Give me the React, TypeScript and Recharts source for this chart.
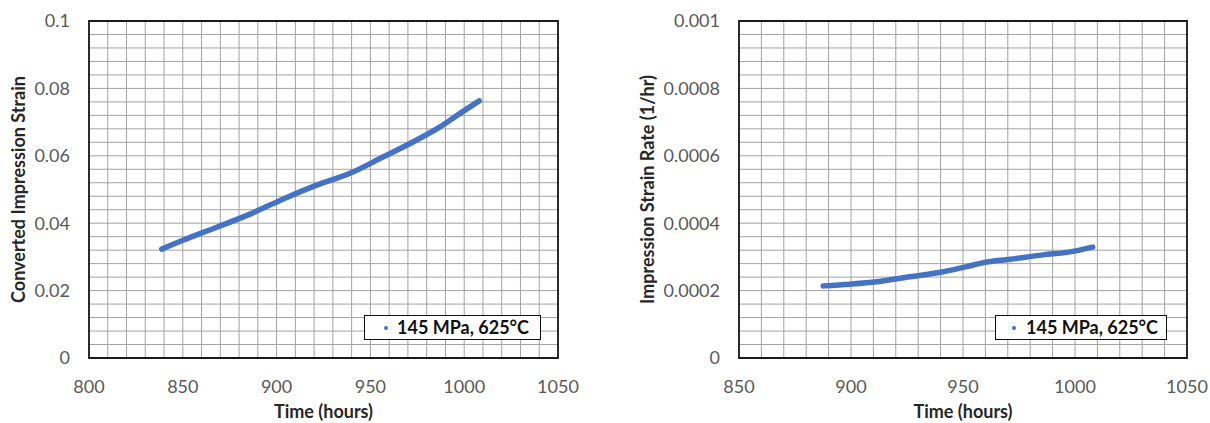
import React from 'react';
import {
  LineChart,
  Line,
  XAxis,
  YAxis,
  CartesianGrid,
  ReferenceArea,
  Legend,
} from 'recharts';

// ---- Data ----
const seriesName = '145 MPa, 625°C';

const leftTime = [838.8, 850.3, 868.1, 885.8, 903.6, 921.4, 939.1, 956.9, 974.7, 987.1, 997.8, 1008.0];
const leftStrain = [0.0323, 0.035, 0.0388, 0.0427, 0.0472, 0.0513, 0.0548, 0.0597, 0.0647, 0.0686, 0.0726, 0.0763];

const rightTime = [887.6, 899.6, 911.5, 926.3, 941.2, 951.7, 959.1, 971.0, 985.8, 997.8, 1007.9];
const rightRate = [0.000214, 0.000219, 0.000226, 0.000241, 0.000256, 0.000271, 0.000283, 0.000293, 0.000306, 0.000315, 0.000329];

// ticks (minor grid positions); labels shown on majors only
const leftXTicks = [800, 810, 820, 830, 840, 850, 860, 870, 880, 890, 900, 910, 920, 930, 940, 950, 960, 970, 980, 990, 1000, 1010, 1020, 1030, 1040, 1050];
const leftXLabels = [800, 850, 900, 950, 1000, 1050];
const leftYTicks = [0, 0.004, 0.008, 0.012, 0.016, 0.02, 0.024, 0.028, 0.032, 0.036, 0.04, 0.044, 0.048, 0.052, 0.056, 0.06, 0.064, 0.068, 0.072, 0.076, 0.08, 0.084, 0.088, 0.092, 0.096, 0.1];
const leftYLabels = [0, 0.02, 0.04, 0.06, 0.08, 0.1];

const rightXTicks = [850, 860, 870, 880, 890, 900, 910, 920, 930, 940, 950, 960, 970, 980, 990, 1000, 1010, 1020, 1030, 1040, 1050];
const rightXLabels = [850, 900, 950, 1000, 1050];
const rightYTicks = [0, 0.00004, 0.00008, 0.00012, 0.00016, 0.0002, 0.00024, 0.00028, 0.00032, 0.00036, 0.0004, 0.00044, 0.00048, 0.00052, 0.00056, 0.0006, 0.00064, 0.00068, 0.00072, 0.00076, 0.0008, 0.00084, 0.00088, 0.00092, 0.00096, 0.001];
const rightYLabels = [0, 0.0002, 0.0004, 0.0006, 0.0008, 0.001];

const leftData = leftTime.map((t, i) => ({ t, v: leftStrain[i] }));
const rightData = rightTime.map((t, i) => ({ t, v: rightRate[i] }));

const FONT = 'Lato, "Open Sans", sans-serif';
const TICK_COLOR = '#595959';
const TITLE_COLOR = '#262626';
const GRID_COLOR = '#a3a3a3';
const LINE_COLOR = '#4472C4';

const labelFormatter = (labels: number[]) => (v: number) =>
  labels.some((l) => Math.abs(l - v) < 1e-9) ? String(v) : '';

const LegendBox = ({ dotLeft, textLeft }: { dotLeft: number; textLeft: number }) => (
  <div
    style={{
      position: 'relative',
      width: '100%',
      height: '100%',
      boxSizing: 'border-box',
      border: '1.5px solid #111',
      background: '#fff',
      fontFamily: FONT,
    }}
  >
    <div
      style={{
        position: 'absolute',
        left: dotLeft - 2,
        top: 10,
        width: 4,
        height: 4,
        borderRadius: 2,
        background: LINE_COLOR,
      }}
    />
    <div
      style={{
        position: 'absolute',
        left: textLeft,
        top: 0,
        lineHeight: '23px',
        fontSize: 18,
        fontWeight: 700,
        color: '#111',
        whiteSpace: 'nowrap',
      }}
    >
      {seriesName}
    </div>
  </div>
);

type PanelProps = {
  data: { t: number; v: number }[];
  width: number;
  yAxisWidth: number;
  marginRight: number;
  xDomain: [number, number];
  yDomain: [number, number];
  xTicks: number[];
  xLabels: number[];
  yTicks: number[];
  yLabels: number[];
  yTitle: string;
  yTitleOffset: number;
  legendLeft: number;
  legendWidth: number;
  dotLeft: number;
  textLeft: number;
};

const Panel = (p: PanelProps) => (
  <LineChart
    width={p.width}
    height={423}
    data={p.data}
    margin={{ top: 21, right: p.marginRight, bottom: 0, left: 0 }}
    style={{ fontFamily: FONT }}
  >
    <CartesianGrid stroke={GRID_COLOR} strokeWidth={1} />
    <XAxis
      type="number"
      dataKey="t"
      domain={p.xDomain}
      ticks={p.xTicks}
      interval={0}
      tickFormatter={labelFormatter(p.xLabels)}
      allowDataOverflow
      axisLine={false}
      tickLine={false}
      tickSize={0}
      tickMargin={22}
      height={65}
      tick={{ fill: TICK_COLOR, fontSize: 18, fontFamily: FONT }}
      label={{
        value: 'Time (hours)',
        position: 'insideBottom',
        offset: 5,
        style: { fill: TITLE_COLOR, fontSize: 18, fontWeight: 700, fontFamily: FONT },
      }}
    />
    <YAxis
      type="number"
      domain={p.yDomain}
      ticks={p.yTicks}
      interval={0}
      tickFormatter={labelFormatter(p.yLabels)}
      allowDataOverflow
      axisLine={false}
      tickLine={false}
      tickSize={0}
      tickMargin={19}
      width={p.yAxisWidth}
      tick={{ fill: TICK_COLOR, fontSize: 18, fontFamily: FONT }}
      label={{
        value: p.yTitle,
        angle: -90,
        position: 'insideLeft',
        offset: p.yTitleOffset,
        style: { textAnchor: 'middle', fill: TITLE_COLOR, fontSize: 18, fontWeight: 700, fontFamily: FONT },
      }}
    />
    <ReferenceArea
      x1={p.xDomain[0]}
      x2={p.xDomain[1]}
      y1={p.yDomain[0]}
      y2={p.yDomain[1]}
      fill="none"
      stroke="#1a1a1a"
      strokeWidth={1.8}
      ifOverflow="visible"
    />
    <Line
      type="monotone"
      dataKey="v"
      name={seriesName}
      stroke={LINE_COLOR}
      strokeWidth={5.5}
      strokeLinecap="round"
      dot={false}
      isAnimationActive={false}
    />
    <Legend
      layout="horizontal"
      verticalAlign="middle"
      align="center"
      wrapperStyle={{ position: 'absolute', left: p.legendLeft, top: 315, width: p.legendWidth, height: 25 }}
      content={() => <LegendBox dotLeft={p.dotLeft} textLeft={p.textLeft} />}
    />
  </LineChart>
);

export default function App() {
  return (
    <div style={{ position: 'absolute', left: 0, top: 0, width: 1210, height: 423, background: '#fff' }}>
      <div style={{ position: 'absolute', left: 0, top: 0 }}>
        <Panel
          data={leftData}
          width={600}
          yAxisWidth={89}
          marginRight={42}
          xDomain={[800, 1050]}
          yDomain={[0, 0.1]}
          xTicks={leftXTicks}
          xLabels={leftXLabels}
          yTicks={leftYTicks}
          yLabels={leftYLabels}
          yTitle="Converted Impression Strain"
          yTitleOffset={19}
          legendLeft={364}
          legendWidth={177}
          dotLeft={21}
          textLeft={32}
        />
      </div>
      <div style={{ position: 'absolute', left: 600, top: 0 }}>
        <Panel
          data={rightData}
          width={610}
          yAxisWidth={139}
          marginRight={23}
          xDomain={[850, 1050]}
          yDomain={[0, 0.001]}
          xTicks={rightXTicks}
          xLabels={rightXLabels}
          yTicks={rightYTicks}
          yLabels={rightYLabels}
          yTitle="Impression Strain Rate (1/hr)"
          yTitleOffset={48}
          legendLeft={395}
          legendWidth={172}
          dotLeft={18}
          textLeft={30}
        />
      </div>
    </div>
  );
}
